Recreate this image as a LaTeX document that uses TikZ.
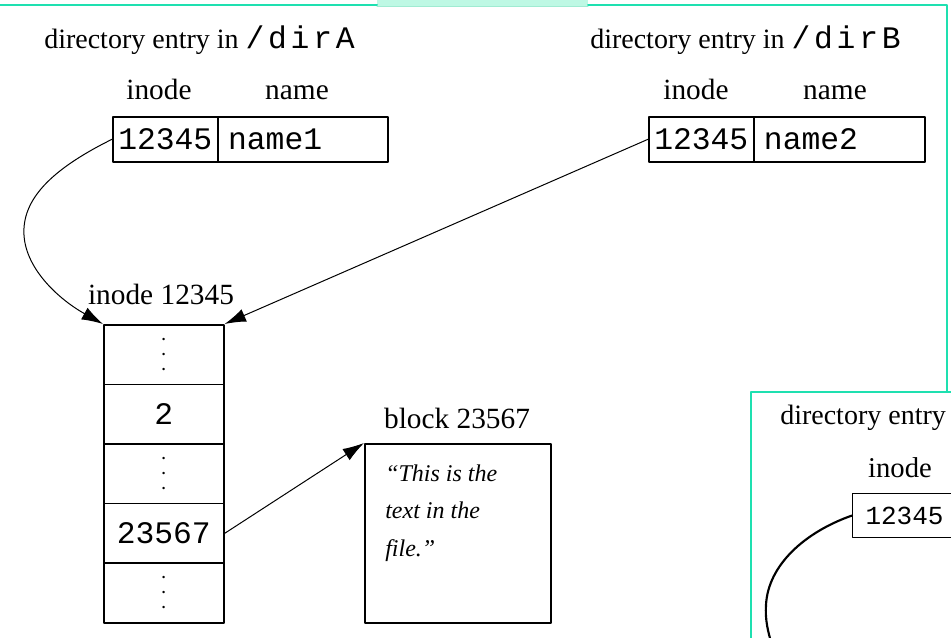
\documentclass[tikz,border=0pt]{standalone}
\usepackage{fontspec}
\setmainfont{Liberation Serif}
\setmonofont{Liberation Mono}
\newfontfamily\widemono[LetterSpace=12]{Liberation Mono}
\usetikzlibrary{arrows.meta}
\definecolor{frameteal}{RGB}{30,224,176}
\definecolor{tabteal}{RGB}{190,248,228}
\definecolor{tabedge}{RGB}{160,235,210}
\tikzset{
	cell/.style={draw,line width=1.2pt,inner sep=0pt,minimum height=33.75pt,anchor=north west,font=\fontsize{23.5}{26}\ttfamily},
	slot/.style={draw,line width=1.2pt,inner sep=0pt,minimum width=90pt,minimum height=44.7pt,anchor=north west,align=center,font=\fontsize{23.5}{26}\ttfamily},
	dotslot/.style={slot,font=\fontsize{11}{11.25}\bfseries},
	lbl/.style={inner sep=0pt,anchor=base,font=\fontsize{22}{24}\selectfont},
	ttl/.style={inner sep=0pt,anchor=base west,font=\fontsize{21}{24}\selectfont},
	ptr/.style={line width=.75pt,-{Latex[length=16pt,width=10pt]}},
}
\begin{document}
\begin{tikzpicture}[x=.75pt,y=-.75pt,line join=round,line cap=round]
			\useasboundingbox (0,0) rectangle (951,638);
			% window frame
			\fill[tabteal] (377,-2) rectangle (588,7);
			\draw[tabedge,line width=.75pt] (377,6.5)--(588,6.5);
			\draw[frameteal,line width=1.5pt] (-2,5)--(377,5) (588,5)--(947,5)--(947,392);
			% directory entries
			\node[ttl] (ttlA) at (44,49) {directory entry in {\widemono\fontsize{23.5}{24}\selectfont /dirA}};
			\node[ttl] (ttlB) at (590,49) {directory entry in {\widemono\fontsize{23.5}{24}\selectfont /dirB}};
			\node[lbl] (inoA) at (159,100) {inode};
			\node[lbl] (namA) at (297,100) {name};
			\node[lbl] (inoB) at (696,100) {inode};
			\node[lbl] (namB) at (835,100) {name};
			\node[cell,minimum width=78.75pt] (a1) at (112,116) {12345};
			\node[cell,minimum width=127.5pt,text width=112pt,inner xsep=7.5pt,align=left] (a2) at (217,116) {name1};
			\node[cell,minimum width=78.75pt] (b1) at (648,116) {12345};
			\node[cell,minimum width=128.25pt,text width=113pt,inner xsep=7.5pt,align=left] (b2) at (753,116) {name2};
			% inode
			\node[lbl] (ino) at (161,305) {inode 12345};
			\node[dotslot] (r1) at (103,324) {.\\.\\.};
			\node[slot] (r2) at (103,383.6) {2};
			\node[dotslot] (r3) at (103,443.2) {.\\.\\.};
			\node[slot] (r4) at (103,502.8) {23567};
			\node[dotslot] (r5) at (103,562.4) {.\\.\\.};
			% data block
			\node[lbl] (blkl) at (457,428) {block 23567};
			\node[draw,line width=1.2pt,inner sep=0pt,minimum width=139.5pt,minimum height=134.25pt,anchor=north west] (blk) at (364,443) {};
			\node[inner sep=0pt,anchor=base west,align=left,font=\fontsize{18}{28}\itshape] (txt) at (385,556) {“This is the\\text in the\\file.”};
			% links
			\draw[ptr] (a1.west) .. controls (50,170) and (22,200) .. (24,235) .. controls (26,270) and (60,300) .. (r1.north west);
			\draw[ptr] (b1.west)--(r1.north east);
			\draw[ptr] (r4.east)--(blk.north west);
			% second window
			\draw[frameteal,line width=1.5pt] (751,640)--(751,392)--(953,392);
			\node[ttl] (ttlC) at (780,425) {directory entry};
			\node[lbl,font=\fontsize{21.5}{24}\selectfont] (inoC) at (900,477) {inode};
			\node[draw,line width=.8pt,anchor=north west,minimum height=33pt,text width=110pt,inner xsep=9.75pt,inner ysep=0pt,align=left,font=\fontsize{19.5}{22}\ttfamily] (c1) at (852,493) {12345};
			\draw[line width=1.6pt] (c1.west) .. controls (805,532) and (768,565) .. (766,605) .. controls (765,620) and (768,632) .. (772,645);
		\end{tikzpicture}
\end{document}
